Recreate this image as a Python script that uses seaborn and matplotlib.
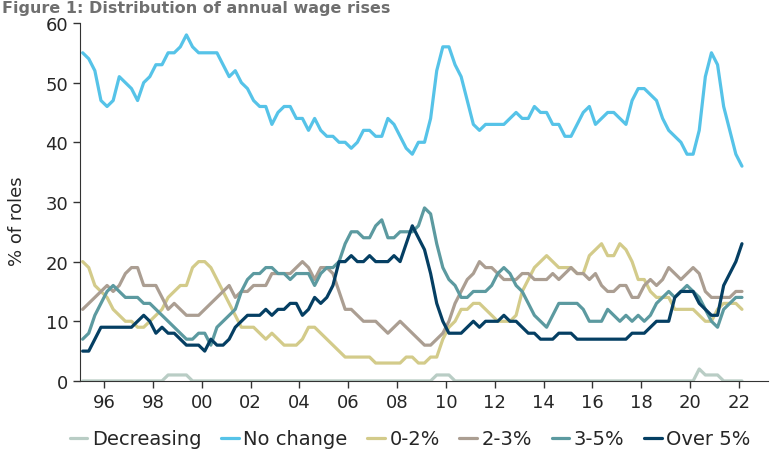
import numpy as np
import pandas as pd
import seaborn as sns
import matplotlib.pyplot as plt

# quarterly observations, 1995Q1 .. 2022Q1
quarters = pd.period_range('1995Q1', '2022Q1', freq='Q')

decreasing = [0] * 14 + [1, 1, 1, 1] + [0] * 40 + [1, 1, 1] + [0] * 40 + [2, 1, 1, 1] + [0] * 4
no_change = [55, 54, 52, 47, 46, 47, 51, 50, 49, 47, 50, 51, 53, 53, 55, 55, 56, 58, 56, 55,
             55, 55, 55, 53, 51, 52, 50, 49, 47,
             46, 46, 43, 45, 46, 46, 44, 44, 42, 44, 42, 41, 41, 40, 40, 39, 40, 42, 42, 41,
             41, 44, 43, 41, 39, 38, 40, 40,
             44, 52, 56, 56, 53, 51, 47, 43, 42, 43, 43, 43, 43, 44, 45, 44, 44, 46, 45, 45,
             43, 43, 41, 41, 43, 45, 46, 43,
             44, 45, 45, 44, 43, 47, 49, 49, 48, 47, 44, 42, 41, 40, 38, 38, 42, 51, 55, 53,
             46, 42, 38, 36]
up_0_2 = [20, 19, 16, 15, 14, 12, 11, 10, 10, 9, 9, 10, 11, 12, 14, 15, 16, 16, 19, 20,
          20, 19, 17, 15, 13, 11, 9, 9, 9,
          8, 7, 8, 7, 6, 6, 6, 7, 9, 9, 8, 7, 6, 5, 4, 4, 4, 4, 4, 3,
          3, 3, 3, 3, 4, 4, 3, 3,
          4, 4, 7, 9, 10, 12, 12, 13, 13, 12, 11, 10, 10, 10, 11, 15, 17, 19, 20, 21,
          20, 19, 19, 19, 18, 18, 21, 22,
          23, 21, 21, 23, 22, 20, 17, 17, 15, 14, 14, 14, 12, 12, 12, 12, 11, 10, 10, 12,
          13, 13, 13, 12]
up_2_3 = [12, 13, 14, 15, 16, 15, 16, 18, 19, 19, 16, 16, 16, 14, 12, 13, 12, 11, 11, 11,
          12, 13, 14, 15, 16, 14, 15, 15, 16,
          16, 16, 18, 18, 18, 18, 19, 20, 19, 17, 19, 19, 18, 15, 12, 12, 11, 10, 10, 10,
          9, 8, 9, 10, 9, 8, 7, 6,
          6, 7, 8, 10, 13, 15, 17, 18, 20, 19, 19, 18, 17, 17, 17, 18, 18, 17, 17, 17,
          18, 17, 18, 19, 18, 18, 17, 18,
          16, 15, 15, 16, 16, 14, 14, 16, 17, 16, 17, 19, 18, 17, 18, 19, 18, 15, 14, 14,
          14, 14, 15, 15]
up_3_5 = [7, 8, 11, 13, 15, 16, 15, 14, 14, 14, 13, 13, 12, 11, 10, 9, 8, 7, 7, 8,
          8, 6, 9, 10, 11, 12, 15, 17, 18,
          18, 19, 19, 18, 18, 17, 18, 18, 18, 16, 18, 19, 19, 20, 23, 25, 25, 24, 24, 26,
          27, 24, 24, 25, 25, 25, 26, 29,
          28, 23, 19, 17, 16, 14, 14, 15, 15, 15, 16, 18, 19, 18, 16, 15, 13, 11, 10, 9,
          11, 13, 13, 13, 13, 12, 10, 10,
          10, 12, 11, 10, 11, 10, 11, 10, 11, 13, 14, 15, 14, 15, 16, 15, 14, 12, 10, 9,
          12, 13, 14, 14]
over_5 = [5, 5, 7, 9, 9, 9, 9, 9, 9, 10, 11, 10, 8, 9, 8, 8, 7, 6, 6, 6,
          5, 7, 6, 6, 7, 9, 10, 11, 11,
          11, 12, 11, 12, 12, 13, 13, 11, 12, 14, 13, 14, 16, 20, 20, 21, 20, 20, 21, 20,
          20, 20, 21, 20, 23, 26, 24, 22,
          18, 13, 10, 8, 8, 8, 9, 10, 9, 10, 10, 10, 11, 10, 10, 9, 8, 8, 7, 7,
          7, 8, 8, 8, 7, 7, 7, 7,
          7, 7, 7, 7, 7, 8, 8, 8, 9, 10, 10, 10, 14, 15, 15, 15, 13, 12, 11, 11,
          16, 18, 20, 23]

labels = ['Decreasing', 'No change', '0-2%', '2-3%', '3-5%', 'Over 5%']
colors = ['#b9cdc5', '#56c3e8', '#d3cb8a', '#ab9e92', '#5c9aa0', '#053f63']
year_ticks = list(range(1996, 2023, 2))

# mid-quarter decimal year
t = quarters.year + (quarters.quarter - 1) / 4 + 0.125
frames = []
for lab, vals in zip(labels, [decreasing, no_change, up_0_2, up_2_3, up_3_5, over_5]):
    frames.append(pd.DataFrame({'t': t, 'value': vals, 'series': lab}))
df = pd.concat(frames, ignore_index=True)

sns.set_style('ticks')
plt.rcParams['font.family'] = ['DejaVu Sans']

fig, ax = plt.subplots(figsize=(7.73, 4.52), dpi=100)
fig.subplots_adjust(left=0.1035, right=0.9935, bottom=0.155, top=0.947)

sns.lineplot(data=df, x='t', y='value', hue='series', hue_order=labels,
             palette=dict(zip(labels, colors)), linewidth=2.3, ax=ax)

ax.set_xlim(1995.017, 2023.19)
ax.set_ylim(0, 60)
ax.set_yticks(range(0, 61, 10))
ax.set_xticks(year_ticks)
ax.set_xticklabels([f'{y % 100:02d}' for y in year_ticks])
ax.tick_params(labelsize=13, length=5, width=1, color='#333333')
ax.set_xlabel('')
ax.set_ylabel('% of roles', fontsize=13)
ax.yaxis.set_label_coords(-0.078, 0.45)
sns.despine(ax=ax)
for s in ['left', 'bottom']:
    ax.spines[s].set_color('#333333')

sns.move_legend(ax, 'center', bbox_to_anchor=(0.48, -0.162), ncol=6, frameon=False,
                title=None, fontsize=14, handlelength=0.9, handletextpad=0.25,
                columnspacing=1.0)

fig.text(0.002, 0.998, 'Figure 1: Distribution of annual wage rises', fontsize=11.5,
         fontweight='bold', color='#6f6f6f', ha='left', va='top')

plt.savefig('out.png', dpi=100)
